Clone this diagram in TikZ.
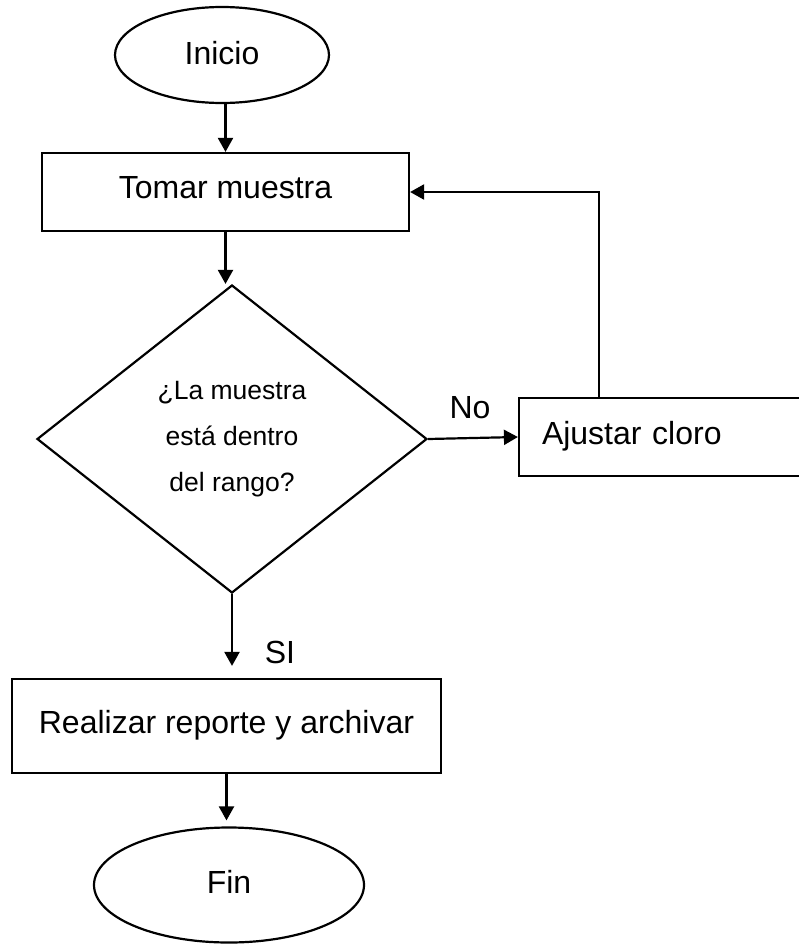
\documentclass[tikz,border=0pt]{standalone}
\usepackage{fontspec}
\setmainfont{Liberation Sans}
\usetikzlibrary{shapes.geometric,arrows.meta}
\begin{document}
\begin{tikzpicture}[x=1pt,y=-1pt,
  every node/.style={font=\fontsize{32}{38}\selectfont},
  line/.style={line width=2.2pt},
  arr/.style={line, -{Triangle[length=14pt,width=15pt]}},
  term/.style={ellipse, draw, line width=2.2pt, inner sep=0pt},
  procbox/.style={rectangle, draw, line width=2.2pt, inner sep=0pt},
  decision/.style={diamond, draw, line width=2.2pt, inner sep=0pt},
  lbl/.style={inner sep=0pt}
]
\useasboundingbox (0,0) rectangle (799,945);
\node[term, minimum width=214pt, minimum height=96pt] (inicio) at (222,55) {\raisebox{4pt}{Inicio}};
\node[procbox, minimum width=367pt, minimum height=78pt] (tomar) at (225.5,192) {\raisebox{9pt}{Tomar muestra}};
\node[decision, minimum width=390pt, minimum height=308pt,
      font=\fontsize{26.5}{46}\selectfont, align=center] (dec) at (232,439)
      {¿La muestra\\está dentro\\del rango?};
\node[procbox, minimum width=286pt, minimum height=78pt, text width=240pt, align=left] (ajustar) at (662,437) {\raisebox{9pt}{Ajustar cloro}};
\node[procbox, minimum width=429pt, minimum height=94pt] (realizar) at (226.5,726) {\raisebox{8pt}{Realizar reporte y archivar}};
\node[term, minimum width=270pt, minimum height=115pt] (fin) at (229,885) {\raisebox{7pt}{Fin}};
\node[lbl] (no) at (470,408) {No};
\node[lbl] (si) at (280,652) {SI};
\draw[arr] (tomar.north |- inicio.south) -- (tomar.north);
\draw[arr] (tomar.south) -- (tomar.south |- dec.north);
\draw[arr] (dec.east) -- (ajustar.west);
\draw[arr] ([xshift=81pt]ajustar.north west) |- (tomar.east);
\draw[arr, shorten >=12pt] (dec.south) -- (dec.south |- realizar.north);
\draw[arr, shorten >=6pt] (realizar.south) -- (realizar.south |- fin.north);
\end{tikzpicture}
\end{document}
